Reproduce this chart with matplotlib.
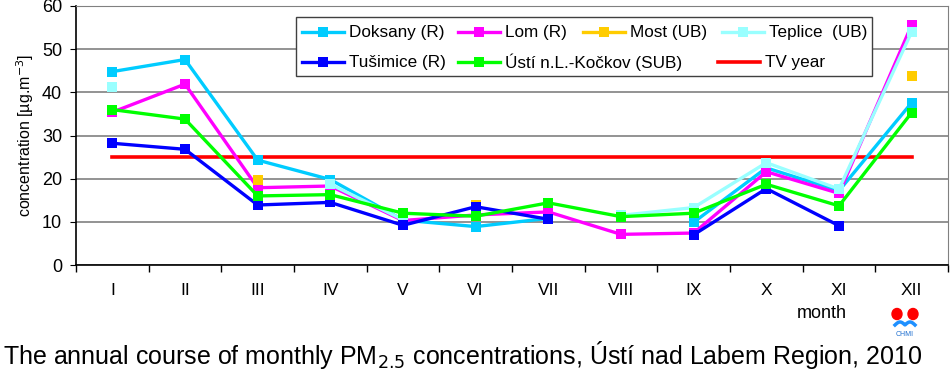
import numpy as np
import matplotlib
matplotlib.use('Agg')
import matplotlib.pyplot as plt
from matplotlib.patches import Ellipse, Rectangle
from matplotlib.lines import Line2D

nan = np.nan

months = ['I', 'II', 'III', 'IV', 'V', 'VI', 'VII', 'VIII', 'IX', 'X', 'XI', 'XII']

doksany = [44.8, 47.6, 24.3, 19.8, 10.4, 8.9, 10.8, nan, 9.9, 22.5, 17.2, 37.6]
lom = [35.4, 41.9, 17.9, 18.3, 10.3, 11.6, 12.3, 7.1, 7.4, 21.6, 16.6, 55.6]
most = [nan, nan, 19.7, nan, nan, 14.0, nan, nan, nan, nan, nan, 43.7]
teplice = [41.3, nan, nan, 18.7, 10.5, nan, nan, 11.5, 13.3, 23.7, 17.6, 54.0]
tusimice = [28.2, 26.8, 13.9, 14.5, 9.2, 13.5, 10.6, nan, 7.0, 17.7, 9.1, nan]
usti = [36.0, 33.8, 16.0, 16.3, 12.0, 11.3, 14.4, 11.2, 12.0, 18.7, 13.7, 35.3]
tv_year = [25] * 12

plt.rcParams['font.family'] = ['Liberation Sans', 'DejaVu Sans']

W, H = 950, 381


def fx(px):
    return px / W


def fy(py):
    return 1 - py / H


fig = plt.figure(figsize=(9.5, 3.81), dpi=100)
ax = fig.add_axes([fx(76), fy(265), 872 / W, 259 / H])

x = np.arange(len(months))

# threshold line sits under the station series
tv_line, = ax.plot(x, tv_year, color='#FF0000', linewidth=2.6, zorder=2)

series = [
    ('Doksany (R)', doksany, '#00CCFF'),
    ('Lom (R)', lom, '#FF00FF'),
    ('Most (UB)', most, '#FFCC00'),
    ('Teplice  (UB)', teplice, '#99FFFF'),
    ('Tušimice (R)', tusimice, '#0000FF'),
    ('Ústí n.L.-Kočkov (SUB)', usti, '#00FF00'),
]
colours = {}
for i, (name, vals, col) in enumerate(series):
    ax.plot(x, vals, color=col, linewidth=2.4, marker='s', markersize=7.5,
            markeredgewidth=0, zorder=3 + i)
    colours[name] = col

ax.set_xlim(-0.5, 11.5)
ax.set_ylim(0, 60)
ax.set_yticks(range(0, 61, 10))
ax.set_xticks(x)
ax.set_xticklabels(months)
ax.set_xticks(np.arange(-0.5, 12, 1), minor=True)
ax.tick_params(axis='x', which='major', length=0, pad=13, labelsize=12.5)
ax.tick_params(axis='x', which='minor', length=5, direction='out', width=1)
ax.tick_params(axis='y', length=4, direction='out', labelsize=13, pad=6)
ax.grid(axis='y', color='#808080', linewidth=1.2)
ax.set_axisbelow(True)
for side in ['top', 'right']:
    ax.spines[side].set_color('#808080')
for side in ['left', 'bottom']:
    ax.spines[side].set_color('black')
    ax.spines[side].set_linewidth(1.2)

ax.set_ylabel('concentration [µg.m$^{-3}$]', fontsize=11.5, labelpad=4)

# legend drawn by hand: Excel places the two rows independently
fig.patches.append(Rectangle((fx(296), fy(76)), 576 / W, 59 / H, transform=fig.transFigure,
                             facecolor='white', edgecolor='#404040', linewidth=1.0, zorder=20))
legend_rows = [
    (32, [('Doksany (R)', 302), ('Lom (R)', 458), ('Most (UB)', 583), ('Teplice  (UB)', 722)]),
    (62, [('Tušimice (R)', 302), ('Ústí n.L.-Kočkov (SUB)', 458), ('TV year', 718)]),
]
for row_y, entries in legend_rows:
    for name, hx in entries:
        if name == 'TV year':
            fig.lines.append(Line2D([fx(hx), fx(hx + 42)], [fy(row_y)] * 2, transform=fig.transFigure,
                                    color='#FF0000', linewidth=2.6, zorder=21))
        else:
            col = colours[name]
            fig.lines.append(Line2D([fx(hx), fx(hx + 42)], [fy(row_y)] * 2, transform=fig.transFigure,
                                    color=col, linewidth=2.4, zorder=21))
            fig.lines.append(Line2D([fx(hx + 21)], [fy(row_y)], transform=fig.transFigure,
                                    color=col, marker='s', markersize=7.5, markeredgewidth=0,
                                    zorder=22))
        fig.text(fx(hx + 47), fy(row_y), name, fontsize=12.3, ha='left', va='center', zorder=23)

fig.text(fx(822), fy(313), 'month', fontsize=13, ha='center', va='center')

fig.text(fx(3), fy(355),
         'The annual course of monthly PM$_{2.5}$ concentrations, Ústí nad Labem Region, 2010',
         fontsize=18, ha='left', va='center')

# small CHMI logo
lax = fig.add_axes([fx(889), fy(338), 32 / W, 32 / H])
lax.set_xlim(0, 32)
lax.set_ylim(0, 32)
lax.axis('off')
lax.add_patch(Ellipse((8, 24), 10, 11, color='#FF0000'))
lax.add_patch(Ellipse((24, 24), 10, 11, color='#FF0000'))
wx = np.linspace(6, 26, 50)
lax.plot(wx, 13 + 3 * np.abs(np.sin((wx - 6) / 20 * 2 * np.pi)), color='#1E90FF', linewidth=2.5)
lax.text(16, 4, 'CHMI', fontsize=5, ha='center', va='center', color='#1E6FD0')

fig.savefig('out.png', dpi=100)
